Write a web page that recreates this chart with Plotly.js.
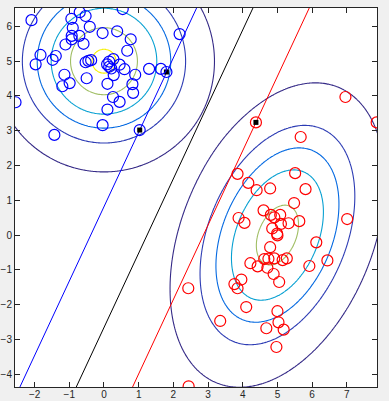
<!DOCTYPE html>
<html>
<head>
<meta charset="utf-8">
<script src="https://cdn.plot.ly/plotly-3.0.1.min.js"></script>
<style>html,body{margin:0;padding:0;background:#f0f0f0;}#chart{width:389px;height:401px;}</style>
</head>
<body>
<div id="chart"></div>
<script>
// ---- Data ----
const blueX = [-2.09,-0.70,-0.53,0.54,-0.94,-0.90,-0.41,-0.93,-0.93,-0.71,-1.11,-0.59,-0.04,0.38,0.77,0.67,2.18,-1.83,-1.39,-1.48,-1.97,-0.53,-0.45,-0.37,0.09,0.27,0.15,0.15,0.21,0.28,0.45,0.59,0.90,1.30,1.64,1.80,-1.14,-0.50,-0.99,-1.20,0.10,0.82,0.84,0.26,0.45,0.10,-2.55,-0.04,-1.43,1.03];
const blueY = [6.18,6.41,6.30,6.50,6.22,5.96,5.99,5.73,5.63,5.73,5.48,5.50,5.81,5.86,5.63,5.30,5.78,5.18,5.15,5.04,4.91,4.97,5.01,5.03,4.91,5.06,4.99,4.84,4.79,4.60,4.90,4.77,4.61,4.78,4.78,4.69,4.61,4.51,4.37,4.28,4.35,4.34,4.09,3.97,3.83,3.61,3.82,3.16,2.88,3.02];
const redX = [6.96,7.86,4.38,5.67,3.85,4.16,4.40,4.79,5.51,5.81,5.48,4.60,3.88,4.05,4.81,4.91,5.08,5.10,4.85,5.32,5.63,7.01,4.99,5.00,6.12,4.79,4.22,4.43,4.62,4.74,4.71,4.91,5.15,5.27,5.92,6.44,4.89,5.05,3.76,3.96,3.85,2.43,4.10,3.35,5.00,5.03,4.68,5.18,4.97,2.44];
const redY = [3.97,3.24,3.24,2.82,1.76,1.50,1.29,1.34,1.78,1.32,0.92,0.71,0.49,0.35,0.58,0.51,0.58,0.32,0.19,0.34,0.40,0.46,0.04,-0.01,-0.21,-0.35,-0.81,-0.90,-0.69,-0.68,-0.94,-0.67,-0.72,-0.67,-0.89,-0.73,-1.12,-1.35,-1.41,-1.28,-1.53,-1.53,-2.07,-2.47,-2.19,-2.51,-2.68,-2.72,-3.22,-4.35];
const supportX = [1.03, 1.80, 4.38];
const supportY = [3.02, 4.69, 3.24];

// Gaussian class models (means and covariances)
const blueMean = [0, 5];
const blueCov = [1, 0, 1];        // [sxx, sxy, syy]
const redMean = [5, 0];
const redCov = [1, 0.5, 2];
const densityLevels = [0.001, 0.01, 0.025, 0.05, 0.1, 0.15];

// Separating lines y = slope*x + intercept (margin, boundary, margin)
const lineSlope = 2.14;
const lineIntercepts = [0.816, -2.659, -6.133];
const lineNames = ['blue margin', 'boundary', 'red margin'];

// ---- Styles ----
const levelColors = ['rgb(53,42,135)','rgb(45,60,180)','rgb(4,105,225)','rgb(7,160,210)','rgb(160,190,100)','rgb(245,240,0)'];
const lineColors = ['rgb(0,0,255)','rgb(0,0,0)','rgb(255,0,0)'];
const xRange = [-2.565, 7.87];
const yRange = [-4.37, 6.53];

function pdf(x, y, m, c) {
  const det = c[0]*c[2] - c[1]*c[1];
  const dx = x - m[0], dy = y - m[1];
  const q = (c[2]*dx*dx - 2*c[1]*dx*dy + c[0]*dy*dy) / det;
  return Math.exp(-0.5*q) / (2*Math.PI*Math.sqrt(det));
}
const gx = [], gy = [];
for (let v = -2.7; v <= 8.0; v += 0.04) gx.push(+v.toFixed(3));
for (let v = -4.5; v <= 6.7; v += 0.04) gy.push(+v.toFixed(3));
const Z = gy.map(y => gx.map(x => pdf(x, y, blueMean, blueCov) + pdf(x, y, redMean, redCov)));

const traces = [];
densityLevels.forEach((L, i) => {
  traces.push({
    type: 'contour', x: gx, y: gy, z: Z, autocontour: false,
    contours: {start: L, end: L + 1e-12, size: 1, coloring: 'none', showlabels: false},
    line: {color: levelColors[i], width: 1.1, smoothing: 1},
    showscale: false, hoverinfo: 'skip', showlegend: false
  });
});
lineIntercepts.forEach((b, i) => {
  const xs = [xRange[0] - 1, xRange[1] + 1];
  traces.push({
    type: 'scatter', mode: 'lines', name: lineNames[i],
    x: xs, y: xs.map(x => lineSlope*x + b),
    line: {color: lineColors[i], width: 1}, showlegend: false, hoverinfo: 'skip'
  });
});
traces.push({type:'scatter', mode:'markers', x: supportX, y: supportY,
  marker:{symbol:'square', size:5, color:'black'}, showlegend:false, hoverinfo:'skip'});
traces.push({type:'scatter', mode:'markers', x: blueX, y: blueY,
  marker:{symbol:'circle-open', size:11, color:'rgb(0,0,255)', line:{width:1.2}}, showlegend:false});
traces.push({type:'scatter', mode:'markers', x: redX, y: redY,
  marker:{symbol:'circle-open', size:11, color:'rgb(255,0,0)', line:{width:1.2}}, showlegend:false});

const axisCommon = {
  showgrid: false, zeroline: false, showline: true, mirror: 'ticks',
  linecolor: 'rgb(38,38,38)', linewidth: 1, ticks: 'inside', ticklen: 5,
  tickcolor: 'rgb(38,38,38)', tickwidth: 1,
  tickfont: {family: 'Liberation Sans, Arial, sans-serif', size: 10, color: 'rgb(38,38,38)'},
  dtick: 1
};
const layout = {
  width: 389, height: 401,
  margin: {l: 15, r: 12, t: 8, b: 14},
  paper_bgcolor: '#f0f0f0', plot_bgcolor: '#ffffff',
  xaxis: Object.assign({}, axisCommon, {range: xRange, tick0: 0, ticklabelstandoff: -2}),
  yaxis: Object.assign({}, axisCommon, {range: yRange, tick0: 0}),
  showlegend: false
};
Plotly.newPlot('chart', traces, layout, {displayModeBar: false, staticPlot: true});
</script>
</body>
</html>
